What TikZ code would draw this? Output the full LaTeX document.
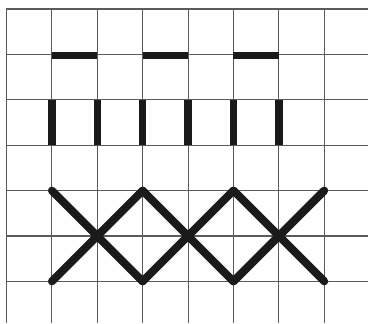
\documentclass[tikz,border=0pt]{standalone}
\usepackage{xcolor}
\usepackage{tikz}
\definecolor{gridgray}{HTML}{5A5A5A}
\definecolor{ink}{HTML}{1A1A1A}
\tikzset{
  gridline/.style={draw=gridgray,line width=.7pt},
  bar/.style={draw=ink,line width=4.6pt},
  cross/.style={draw=ink,line width=5pt,line cap=round}
}
\begin{document}
\begin{tikzpicture}[x=1cm,y=-1cm]
\useasboundingbox (-0.143,-0.198) rectangle (7.963,6.917);
\foreach \i in {0,...,7} \draw[gridline] (\i,0) -- (\i,6.917);
\foreach \j in {0,...,6} \draw[gridline] (0,\j) -- (7.963,\j);

% horizontal dashes
\foreach \i in {1,3,5} \draw[bar] (\i,1.03) -- (\i+1,1.03);
% vertical bars
\foreach \i in {1,...,6} \draw[bar] (\i,2) -- (\i,3);

% crosses
\foreach \i in {1,3,5} {
  \draw[cross] (\i,4) -- (\i+2,6);
  \draw[cross] (\i,6) -- (\i+2,4);
}
\end{tikzpicture}
\end{document}
